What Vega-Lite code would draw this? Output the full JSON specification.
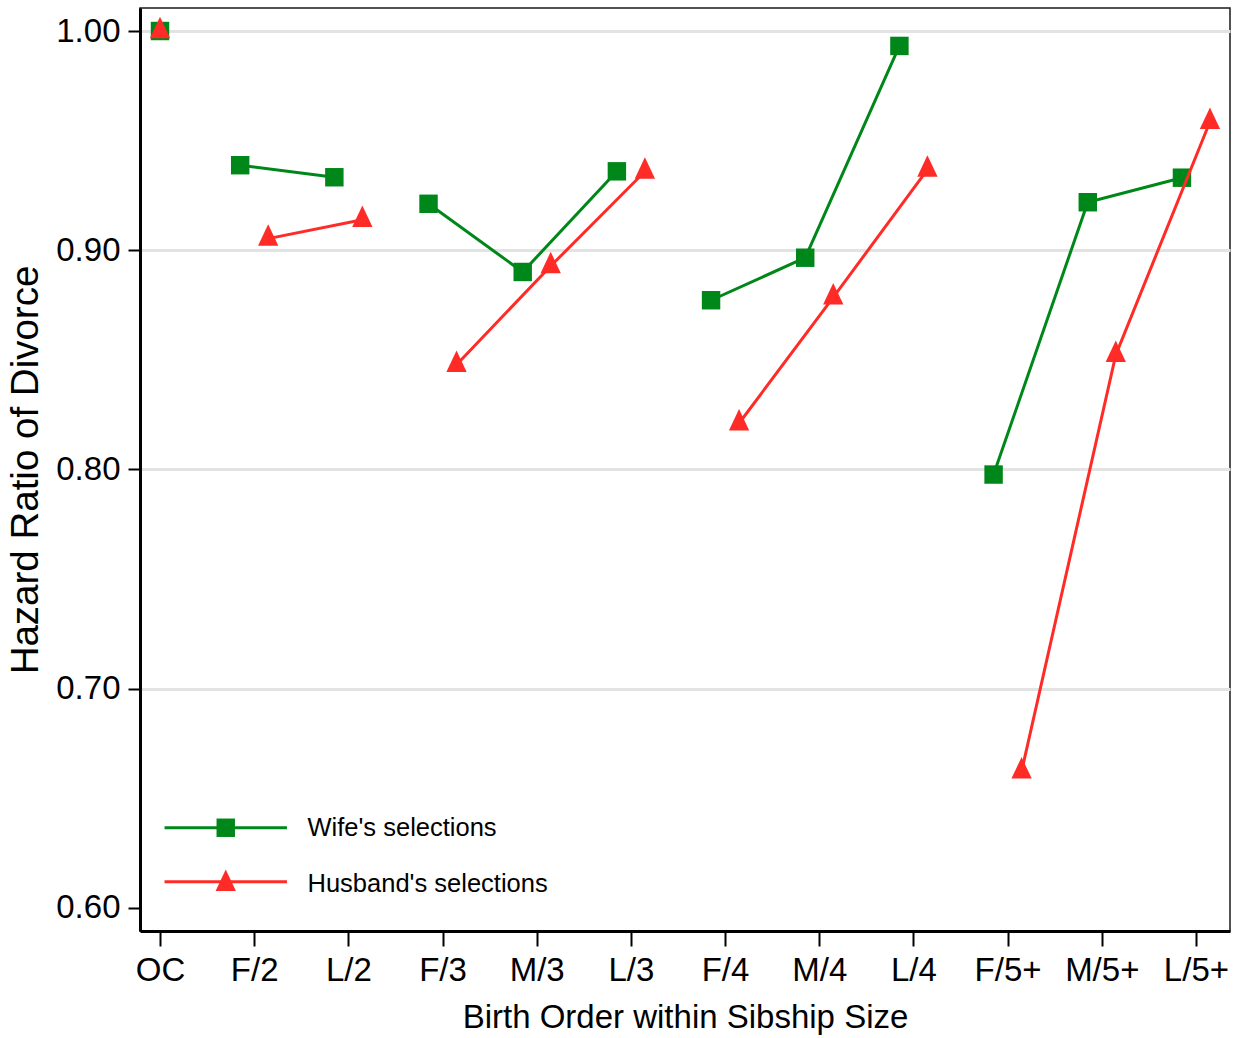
{
  "$schema": "https://vega.github.io/schema/vega-lite/v6.json",
  "width": 1090,
  "height": 923,
  "autosize": {"type": "none"},
  "padding": {"left": 140, "top": 8, "right": 9, "bottom": 107},
  "background": "white",
  "config": {
    "font": "Liberation Sans",
    "view": {"stroke": "#1a1a1a", "strokeWidth": 1.5},
    "axis": {
      "domainColor": "black",
      "domainWidth": 3,
      "tickColor": "black",
      "tickWidth": 2,
      "labelColor": "black",
      "titleColor": "black",
      "labelFont": "Liberation Sans",
      "titleFont": "Liberation Sans",
      "titleFontWeight": "normal"
    },
    "legend": {"labelFont": "Liberation Sans", "labelLimit": 500}
  },
  "data": {
    "values": [
      {"cat": "OC", "series": "Wife's selections", "side": "C", "grp": "g1", "pos": 0, "hr": 1.0},
      {"cat": "F/2", "series": "Wife's selections", "side": "L", "grp": "g2", "pos": 1, "hr": 0.9388},
      {"cat": "L/2", "series": "Wife's selections", "side": "L", "grp": "g2", "pos": 2, "hr": 0.9333},
      {"cat": "F/3", "series": "Wife's selections", "side": "L", "grp": "g3", "pos": 3, "hr": 0.9212},
      {"cat": "M/3", "series": "Wife's selections", "side": "L", "grp": "g3", "pos": 4, "hr": 0.8901},
      {"cat": "L/3", "series": "Wife's selections", "side": "L", "grp": "g3", "pos": 5, "hr": 0.936},
      {"cat": "F/4", "series": "Wife's selections", "side": "L", "grp": "g4", "pos": 6, "hr": 0.8772},
      {"cat": "M/4", "series": "Wife's selections", "side": "L", "grp": "g4", "pos": 7, "hr": 0.8966},
      {"cat": "L/4", "series": "Wife's selections", "side": "L", "grp": "g4", "pos": 8, "hr": 0.9932},
      {"cat": "F/5+", "series": "Wife's selections", "side": "L", "grp": "g5", "pos": 9, "hr": 0.7977},
      {"cat": "M/5+", "series": "Wife's selections", "side": "L", "grp": "g5", "pos": 10, "hr": 0.9219},
      {"cat": "L/5+", "series": "Wife's selections", "side": "L", "grp": "g5", "pos": 11, "hr": 0.9331},
      {"cat": "OC", "series": "Husband's selections", "side": "C", "grp": "g1", "pos": 0, "hr": 1.0},
      {"cat": "F/2", "series": "Husband's selections", "side": "R", "grp": "g2", "pos": 1, "hr": 0.9053},
      {"cat": "L/2", "series": "Husband's selections", "side": "R", "grp": "g2", "pos": 2, "hr": 0.9139},
      {"cat": "F/3", "series": "Husband's selections", "side": "R", "grp": "g3", "pos": 3, "hr": 0.8478},
      {"cat": "M/3", "series": "Husband's selections", "side": "R", "grp": "g3", "pos": 4, "hr": 0.8928},
      {"cat": "L/3", "series": "Husband's selections", "side": "R", "grp": "g3", "pos": 5, "hr": 0.9359},
      {"cat": "F/4", "series": "Husband's selections", "side": "R", "grp": "g4", "pos": 6, "hr": 0.8211},
      {"cat": "M/4", "series": "Husband's selections", "side": "R", "grp": "g4", "pos": 7, "hr": 0.8785},
      {"cat": "L/4", "series": "Husband's selections", "side": "R", "grp": "g4", "pos": 8, "hr": 0.9368},
      {"cat": "F/5+", "series": "Husband's selections", "side": "R", "grp": "g5", "pos": 9, "hr": 0.6623},
      {"cat": "M/5+", "series": "Husband's selections", "side": "R", "grp": "g5", "pos": 10, "hr": 0.8523},
      {"cat": "L/5+", "series": "Husband's selections", "side": "R", "grp": "g5", "pos": 11, "hr": 0.9586}
    ]
  },
  "encoding": {
    "x": {
      "field": "cat",
      "type": "ordinal",
      "sort": null,
      "scale": {
        "type": "point",
        "domain": ["OC", "F/2", "L/2", "F/3", "M/3", "L/3", "F/4", "M/4", "L/4", "F/5+", "M/5+", "L/5+"],
        "padding": 0.287,
        "align": 0.37,
        "round": false
      },
      "axis": {
        "title": "Birth Order within Sibship Size",
        "titleFontSize": 33,
        "titlePadding": 14,
        "labelFontSize": 33,
        "labelAngle": 0,
        "labelPadding": 8,
        "tickSize": 15,
        "grid": false
      }
    },
    "xOffset": {
      "field": "side",
      "type": "nominal",
      "scale": {"type": "point", "domain": ["L", "C", "R"], "range": [-14, 14], "padding": 0}
    },
    "y": {
      "field": "hr",
      "type": "quantitative",
      "scale": {"domain": [0.5895, 1.0105], "zero": false, "nice": false},
      "axis": {
        "title": "Hazard Ratio of Divorce",
        "titleFontSize": 38.5,
        "titlePadding": 10,
        "values": [0.6, 0.7, 0.8, 0.9, 1.0],
        "format": ".2f",
        "labelFontSize": 33,
        "labelPadding": 8,
        "tickSize": 12,
        "grid": true,
        "gridWidth": 3,
        "gridColor": {"condition": {"test": "datum.value < 0.65", "value": "transparent"}, "value": "#e3e3e3"}
      }
    }
  },
  "layer": [
    {
      "transform": [{"filter": "datum.series === \"Wife's selections\""}],
      "mark": {"type": "line", "strokeWidth": 3},
      "encoding": {
        "detail": {"field": "grp"},
        "order": {"field": "pos", "type": "quantitative"},
        "stroke": {
          "field": "series",
          "type": "nominal",
          "sort": ["Wife's selections", "Husband's selections"],
          "scale": {"range": ["#00871a", "#ff2b26"]},
          "legend": {
            "orient": "none",
            "legendX": 73,
            "legendY": 807,
            "title": null,
            "padding": 0,
            "symbolType": "M-6.8,0H6.8",
            "symbolSize": 324,
            "symbolStrokeWidth": 3,
            "labelFontSize": 25.5,
            "labelOffset": 69,
            "labelColor": "transparent",
            "rowPadding": 27
          }
        }
      }
    },
    {
      "transform": [{"filter": "datum.series === \"Wife's selections\""}],
      "mark": {"type": "point", "filled": true, "size": 340, "opacity": 1, "strokeWidth": 0},
      "encoding": {
        "fill": {
          "field": "series",
          "type": "nominal",
          "scale": {"domain": ["Wife's selections", "Husband's selections"], "range": ["#00871a", "#ff2b26"]},
          "legend": {
            "orient": "none",
            "legendX": 73,
            "legendY": 807,
            "title": null,
            "padding": 0,
            "symbolSize": 340,
            "symbolStrokeWidth": 0,
            "labelFontSize": 25.5,
            "labelOffset": 69,
            "labelColor": "black",
            "rowPadding": 27
          }
        },
        "shape": {
          "field": "series",
          "type": "nominal",
          "scale": {"domain": ["Wife's selections", "Husband's selections"], "range": ["square", "M0,-1.55L-1.1,0.78L1.1,0.78Z"]},
          "legend": {
            "orient": "none",
            "legendX": 73,
            "legendY": 807,
            "title": null,
            "padding": 0,
            "symbolSize": 340,
            "symbolStrokeWidth": 0,
            "labelFontSize": 25.5,
            "labelOffset": 69,
            "labelColor": "black",
            "rowPadding": 27
          }
        }
      }
    },
    {
      "transform": [{"filter": "datum.series === \"Husband's selections\""}],
      "mark": {"type": "line", "strokeWidth": 3},
      "encoding": {
        "detail": {"field": "grp"},
        "order": {"field": "pos", "type": "quantitative"},
        "stroke": {"field": "series", "type": "nominal", "sort": ["Wife's selections", "Husband's selections"]}
      }
    },
    {
      "transform": [{"filter": "datum.series === \"Husband's selections\""}],
      "mark": {"type": "point", "filled": true, "size": 340, "opacity": 1, "strokeWidth": 0},
      "encoding": {
        "fill": {"field": "series", "type": "nominal"},
        "shape": {"field": "series", "type": "nominal"}
      }
    }
  ]
}
